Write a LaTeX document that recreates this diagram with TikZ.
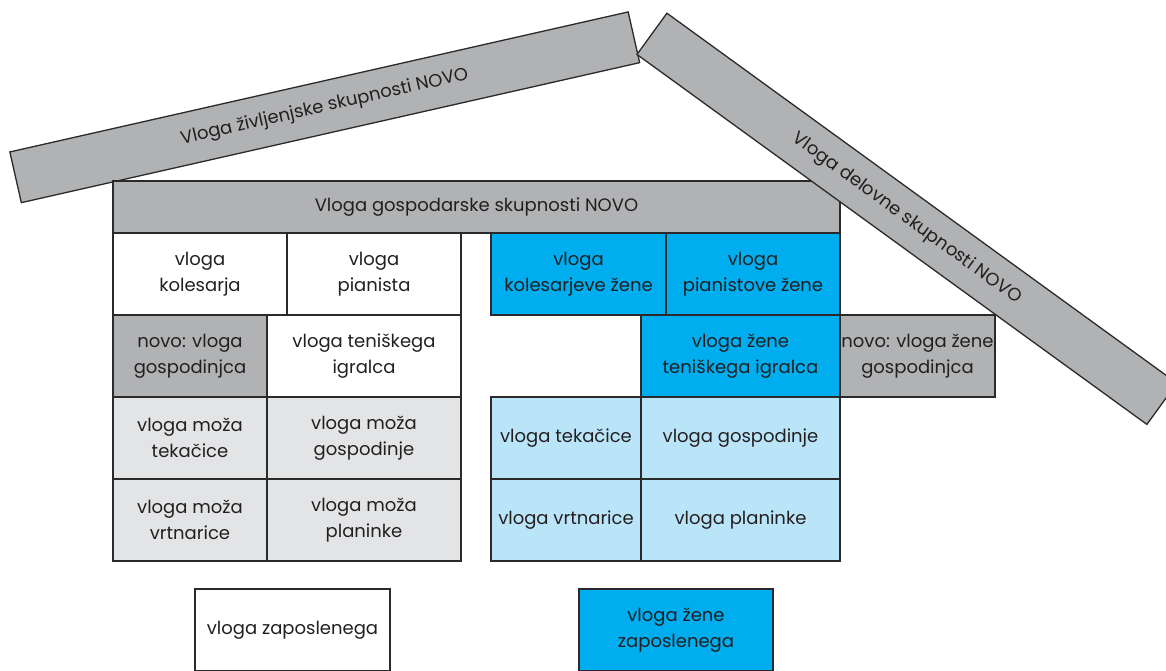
\documentclass[tikz,border=0pt]{standalone}
\usepackage{fontspec}
\setmainfont{Poppins}
\definecolor{txt}{HTML}{231F20}
\definecolor{edge}{HTML}{2B2A2B}
\definecolor{beamgray}{HTML}{B1B2B4}
\definecolor{paleg}{HTML}{E3E4E5}
\definecolor{cyanbox}{HTML}{00ADEE}
\definecolor{palecyan}{HTML}{BAE5F9}
\begin{document}
\begin{tikzpicture}[x=1pt,y=-1pt,
  every node/.style={text=txt, font=\fontsize{18}{26}\selectfont, align=center, inner sep=0pt},
  cell/.style={draw=edge, line width=1.3pt, minimum height=82pt},
  beam/.style={draw=edge, line width=1.3pt, fill=beamgray, minimum height=52pt},
  white/.style={cell, fill=white},
  grey/.style={cell, fill=beamgray},
  pale/.style={cell, fill=paleg},
  blue/.style={cell, fill=cyanbox},
  lblue/.style={cell, fill=palecyan}]
\clip (0,0) rectangle (1166,671);
% left roof beam
\node[beam, minimum width=634pt, rotate=12.76] (life) at (324.75,107.3) {Vloga življenjske skupnosti NOVO};
% header
\node[grey, minimum width=727pt, minimum height=52pt] (hdr) at (476.5,207) {Vloga gospodarske skupnosti NOVO};
% row 1
\node[white, minimum width=174pt] (kol) at (200,274) {vloga\\kolesarja};
\node[white, minimum width=174pt] (pia) at (374,274) {vloga\\pianista};
\node[blue, minimum width=175pt] (kolz) at (578.5,274) {vloga\\kolesarjeve žene};
\node[blue, minimum width=174pt] (piaz) at (753,274) {vloga\\pianistove žene};
% row 2
\node[grey, minimum width=154pt] (gosp) at (190,356) {novo: vloga\\gospodinjca};
\node[white, minimum width=194pt] (ten) at (364,356) {vloga teniškega\\igralca};
\node[blue, minimum width=199pt] (tenz) at (740.5,356) {vloga žene\\teniškega igralca};
% row 3
\node[pale, minimum width=154pt] (mtek) at (190,438) {vloga moža\\tekačice};
\node[pale, minimum width=194pt] (mgos) at (364,438) {vloga moža\\gospodinje};
\node[lblue, minimum width=150pt] (tek) at (566,438) {vloga tekačice};
\node[lblue, minimum width=199pt] (gosz) at (740.5,438) {vloga gospodinje};
% row 4
\node[pale, minimum width=154pt] (mvrt) at (190,520) {vloga moža\\vrtnarice};
\node[pale, minimum width=194pt] (mpla) at (364,520) {vloga moža\\planinke};
\node[lblue, minimum width=150pt] (vrt) at (566,520) {vloga vrtnarice};
\node[lblue, minimum width=199pt] (pla) at (740.5,520) {vloga planinke};
% bottom
\node[white, minimum width=195pt] (zap) at (292.5,630) {vloga zaposlenega};
\node[blue, minimum width=194pt] (zapz) at (676,630) {vloga žene\\zaposlenega};
% right roof beam
\node[beam, minimum width=630pt, minimum height=51pt, rotate=-35.96] (work) at (906.9,218.8) {Vloga delovne skupnosti NOVO};
\node[grey, minimum width=155pt] (gospz) at (917.5,356) {novo: vloga žene\\gospodinjca};
\end{tikzpicture}
\end{document}
